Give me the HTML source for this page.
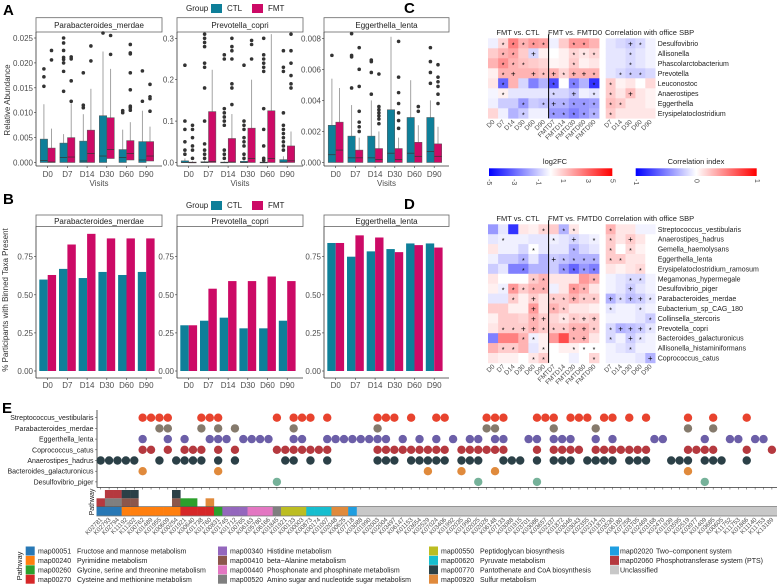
<!DOCTYPE html>
<html><head><meta charset="utf-8"><style>
body{margin:0;background:#fff}
svg{display:block;font-family:"Liberation Sans",Arial,sans-serif}
</style></head><body>
<svg id="fig" width="778" height="586" viewBox="0 0 778 586" xmlns="http://www.w3.org/2000/svg"></svg>
<script>
// ===== Panel A data =====
const visits = ["D0","D7","D14","D30","D60","D90"];
const taxaAB = ["Parabacteroides_merdae","Prevotella_copri","Eggerthella_lenta"];
const aMax = [0.025,0.3,0.008];
const aTicks = [["0.000","0.005","0.010","0.015","0.020","0.025"],["0.0","0.1","0.2","0.3"],["0.000","0.002","0.004","0.006","0.008"]];
const aTickVals = [[0,0.005,0.01,0.015,0.02,0.025],[0,0.1,0.2,0.3],[0,0.002,0.004,0.006,0.008]];
// [q1, median, q3, whiskerHigh]
const boxCTL = [
 [[0,.0004,.0047,.0117],[0,.001,.0039,.0057],[0,.0003,.0043,.0097],[0,.0013,.0094,.0223],[0,.001,.0026,.0066],[0,.0005,.0042,.0104]],
 [[0,0,.004,.01],[0,0,.002,.005],[0,0,.001,.003],[0,0,.003,.006],[0,0,.001,.003],[0,.001,.007,.015]],
 [[0,.0005,.0024,.0054],[0,.0003,.0017,.0037],[0,.0003,.0017,.004],[0,.0006,.0034,.0081],[0,.0006,.0029,.0053],[0,.0007,.0029,.004]]];
const boxFMT = [
 [[0,.0001,.0029,.0068],[0,.0011,.005,.0119],[0,.0018,.0065,.0148],[.0008,.0026,.009,.0188],[.0005,.0018,.0044,.0081],[.0003,.0013,.0042,.0072]],
 [[0,0,.001,.003],[0,.002,.123,.224],[0,.001,.058,.117],[0,.01,.083,.2],[0,.01,.125,.31],[0,.004,.04,.075]],
 [[0,.0008,.0026,.0048],[0,.0003,.0008,.0016],[0,.0002,.0009,.002],[0,.0002,.0009,.0016],[0,.0004,.0013,.0024],[0,.0004,.0012,.0023]]];
const outCTL = [
 [[.0153,.0172,.0188],[.0143,.0183,.02,.0207,.0211,.0225,.024,.025],[.011,.0115,.018],[.026],[.01,.0104],[.0123,.0184]],
 [[.02,.03,.05,.08,.1,.235],[.01,.02,.03,.045,.1,.18,.23,.24,.28,.29,.3,.31],[.01,.02,.03,.09,.1,.11,.12,.13,.25,.26],[.01,.02,.04,.05,.06,.08,.09,.1,.235],[.005,.01,.04,.08,.13,.22,.23,.24,.25,.26,.3],[.03,.04,.05,.06,.07,.08,.09,.12,.22,.23,.27]],
 [[.0069],[.0048,.0068,.0069,.0083],[.0044,.0058,.0065,.0066],[],[],[.0074,.0065,.0058,.0051]]];
const outFMT = [
 [[.0206,.0225],[.0123,.0164,.0208,.0212],[.0204,.0234],[.0217,.0255],[.0105,.011,.0113,.0146,.018,.0218,.022,.0237],[.0103,.0128,.0132,.0157]],
 [[.01,.03,.04,.06,.08,.09],[],[.14,.18,.19,.25,.27,.28,.3],[.25,.285,.295],[],[.18,.19,.21,.24,.27,.31]],
 [[],[.002,.0023,.0026,.0033,.0049,.006,.0074],[.0025,.0028,.003,.0032,.0034,.0036,.0057],[.0022,.0027,.0032,.0038,.0045,.0055,.0078],[.0033,.0036],[.0063,.0055,.0052,.0049,.0044,.0038]]];
// ===== Panel B data =====
const bTicks = ["0.00","0.25","0.50","0.75"];
const bTickVals = [0,0.25,0.5,0.75];
const presCTL = [[.60,.67,.61,.65,.63,.65],[.30,.33,.35,.28,.28,.33],[.84,.75,.785,.80,.837,.837]];
const presFMT = [[.63,.83,.90,.87,.87,.87],[.30,.54,.59,.59,.62,.59],[.84,.89,.876,.78,.826,.81]];
// ===== Panel C data =====
const hmCols = ["D0","D7","D14","D30","D60","D90","FMTD7","FMTD14","FMTD30","FMTD60","FMTD90"];
const corCols = ["D7","D14","D30","D60","D90"];
const cRows = ["Desulfovibrio","Allisonella","Phascolarctobacterium","Prevotella","Leuconostoc","Anaerostipes","Eggerthella","Erysipelatoclostridium"];
const cFC = [
 [-0.3,0.8,2.5,1.5,2,1.8,-0.3,1,2,2,1.5],
 [1,1.5,1.8,1,-0.8,0.3,0,0.3,0.8,0.5,0.8],
 [1.5,2.2,1.5,1.2,1,0.8,0.2,0.3,1,0.3,0.5],
 [0.3,1.5,1.5,1.5,1.5,1.2,1.5,0.8,1.5,1.5,1.5],
 [0.5,-3,1.5,-0.8,-2.5,-1.5,-3.5,0,-2.5,-1.5,-4],
 [-0.2,0.3,-0.5,-0.5,-0.5,-0.5,-0.8,-0.8,-1.2,-0.3,-0.5],
 [-0.3,-1,-1,-2,-1,-1.2,-1.5,-1.5,-2,-2,-1.8],
 [0.8,-0.3,-1.5,-1,-0.3,-0.3,-2,-2,-2.5,-2,-1.5]];
const cSym = [" *****  ** "," ** +   ***"," ***    *  "," *+ +*+*++*"," *    * * *"," *    * + *","   * *+****","   *  *****"];
const cCor = [[-.1,-.15,-.2,-.15,-.05],[-.1,-.1,-.15,-.1,-.05],[-.1,-.1,-.15,-.1,-.05],[-.1,-.15,-.2,-.2,-.15],[.2,.05,.1,0,.15],[.2,.1,.25,.1,.05],[.25,.2,.1,.1,.05],[.2,.1,.1,.1,.1]];
const cCorSym = ["  +* ","  *  ","  *  "," *** ","*    ","* +  ","**   ","*    "];
// ===== Panel D data =====
const dRows = ["Streptococcus_vestibularis","Anaerostipes_hadrus","Gemella_haemolysans","Eggerthella_lenta","Erysipelatoclostridium_ramosum","Megamonas_hypermegale","Desulfovibrio_piger","Parabacteroides_merdae","Eubacterium_sp_CAG_180","Collinsella_stercoris","Prevotella_copri","Bacteroides_galacturonicus","Allisonella_histaminiformans","Coprococcus_catus"];
const dFC = [
 [-2,-0.5,-4,0.5,0.3,0.8,1,-1.5,0.5,0,0],
 [-0.5,-0.3,-0.3,-0.3,-0.5,-0.5,-0.3,-0.5,-0.8,-0.5,-0.3],
 [0.5,-0.3,-0.3,-0.8,0,-0.5,-0.5,-0.5,-1.5,-0.8,-0.5],
 [-0.3,-1,-1,-1.5,-0.5,-1.5,-1,-1.2,-1.5,-1.5,-1.5],
 [-1,-0.5,-2.5,-2.5,-1.5,-1.5,-1,-2,-3,-2,-2.5],
 [0.5,0,0,0,1,1.5,0.5,0.5,0.5,2,1.5],
 [0.3,-0.3,2,1,1.5,1.5,-0.3,0.5,2,1.5,0.5],
 [-0.5,-0.5,1,0.3,1,0.5,1,1,1.5,1,1],
 [1,1,0.3,0.3,2,0.5,1.5,1,0.5,0.5,0.3],
 [0.3,1,1,0.8,1.5,1,0.8,0.5,1,0.8,1],
 [0.5,1,1,1,1.5,1,1,1,1.5,1.5,1],
 [-2.5,2.5,2.5,1.5,-0.3,0.3,2,3.5,1.5,1.5,0.5],
 [1.5,1,1,1.5,-0.5,0.3,0,0.3,0.3,0,0],
 [0.5,0.3,0.3,0,0.5,1,0,0,-0.3,0,0.8]];
const dSym = ["     * **  "," *    * + *","    *   *  ","   *  +****","   *   ****","    **    *"," *****  ** ","  * + **+**","    + **   ","    ++ **++"," **++***++*","   **   *+ "," **  *  ***","    **    *"];
const dCor = [[.3,.1,.1,-.05,-.05],[.2,.1,.2,.1,0],[.2,0,.15,.05,0],[.2,.2,.1,.1,0],[.1,.05,.1,.15,0],[-.05,-.1,-.15,-.15,-.05],[-.05,-.1,-.2,-.1,-.05],[-.3,-.15,-.25,-.2,-.1],[-.1,-.05,-.05,-.1,-.05],[-.05,-.05,-.05,-.1,-.2],[-.15,-.3,-.25,-.2,-.1],[-.15,-.05,-.2,-.1,-.05],[-.05,-.1,-.15,-.05,-.05],[-.05,-.05,-.05,-.1,-.3]];
const dCorSym = ["*    ","* +  ","* *  ","**   ","   * ","  ** ","  +  ","+*++*","*  * ","    *","*+++*","* +* ","  *  ","    +"];
// ===== Panel E data =====
const eRows = ["Streptococcus_vestibularis","Parabacteroides_merdae","Eggerthella_lenta","Coprococcus_catus","Anaerostipes_hadrus","Bacteroides_galacturonicus","Desulfovibrio_piger"];
const eColors = ["#e8432e","#857a6c","#6c5fa8","#b5393f","#2b4047","#e08a3c","#76b29a"];
const eCols = [
 [5,6,7,8,12,13,14,21,23,24,25,27,33,34,35,37,40,41,46,47,48,52,53,54,56,57,58,60,61,63,65,70,73,77],
 [7,8,12,14,16,23,33,46,47,54,59,70,73],
 [5,8,10,13,14,15,17,18,19,20,23,24,27,28,29,30,31,32,33,34,36,38,40,42,44,45,47,48,51,52,54,55,56,59,61,66,67,72,75,76,78,79],
 [5,6,8,10,11,12,14,16,21,22,23,24,25,26,27,33,34,35,36,37,38,39,40,41,43,44,45,46,47,48,52,54,55,56,57,59,60,61,62,63,64,65,70,71,72,73,77,80],
 [0,1,2,3,4,7,9,10,11,12,14,16,22,23,25,27,33,34,35,37,38,39,40,41,43,44,45,48,49,50,52,54,55,56,58,59,60,61,63,64,65,68,69,70,72,73,74,77],
 [5,14,39,43,47,70],
 [21,45,52,72]];
const kos = ["K02781","K02793","K02794","K11192","K11202","K00762","K01489","K01955","K00609","K00254","K01921","K00640","K01738","K01760","K00831","K01745","K01712","K00765","K06163","K05780","K06166","K01845","K01921","K00133","K00003","K00873","K00174","K01007","K02048","K00625","K07718","K03088","K01990","K02003","K02004","K03497","K06147","K01153","K03654","K02529","K07024","K03406","K01992","K02035","K01990","K02025","K02026","K06148","K07133","K03088","K01915","K03701","K03086","K03657","K02337","K01872","K03046","K03043","K02355","K02314","K01870","K03530","K06180","K07258","K03705","K02469","K03168","K02470","K01939","K03595","K02519","K03977","K01409","K03685","K00605","K11752","K11753","K01866","K11140","K11753","K13189"];
const pwNames = ["map00051","map00240","map00260","map00270","map00340","map00410","map00440","map00520","map00550","map00620","map00770","map00920","map02020","map02060","Unclassified"];
const pwDesc = ["Fructose and mannose metabolism","Pyrimidine metabolism","Glycine, serine and threonine metabolism","Cysteine and methionine metabolism","Histidine metabolism","beta\u2212Alanine metabolism","Phosphonate and phosphinate metabolism","Amino sugar and nucleotide sugar metabolism","Peptidoglycan biosynthesis","Pyruvate metabolism","Pantothenate and CoA biosynthesis","Sulfur metabolism","Two\u2212component system","Phosphotransferase system (PTS)",""];
const pwColors = ["#2878b5","#ff7f0e","#2ca02c","#d62728","#9467bd","#8c564b","#e377c2","#7f7f7f","#bcbd22","#17becf","#2b4047","#e08a3c","#1f9ee0","#b5393f","#c8c8c8"];
const pwBottom = [0,0,0,1,1,1,1,1,1,1,3,3,3,3,2,4,4,4,6,6,6,7,8,8,8,9,9,9,11,11,12];
const pwMiddle = {0:13,1:7,2:7,3:5,4:5,9:5,10:2,11:2,13:11};
const pwTop = {1:13,2:13,3:10,4:10,9:10};

const NS="http://www.w3.org/2000/svg";
const svg=document.getElementById('fig');
function mk(tag,at,parent){const e=document.createElementNS(NS,tag);for(const k in at)e.setAttribute(k,at[k]);(parent||svg).appendChild(e);return e;}
function txt(s,x,y,at,parent){const e=mk('text',Object.assign({x:x,y:y,'font-size':8,fill:'#4d4d4d'},at||{}),parent);e.textContent=s;return e;}
const CTL="#0e7f99", FMT="#cc0a66";

[["A",3,15],["B",3,204],["C",404,13],["D",404,209],["E",2,413]].forEach(p=>{
 const t=txt(p[0],p[1],p[2],{'font-size':15,'font-weight':'bold',fill:'#000'});
 
 
});

function groupLegend(y,name){
 const g=mk('g',{});
 
 
 txt("Group",186,y+3,{'font-size':8,fill:'#222'},g);
 mk('rect',{x:211,y:y-4,width:11,height:9,fill:CTL},g);
 txt("CTL",227,y+3,{'font-size':8,fill:'#222'},g);
 mk('rect',{x:252,y:y-4,width:11,height:9,fill:FMT},g);
 txt("FMT",268,y+3,{'font-size':8,fill:'#222'},g);
}
groupLegend(8,'legend-a');
groupLegend(205,'legend-b');

const panX=[[36,162],[177,303],[324,449]];
function cx(p,i){return panX[p][0]+11.7+i*19.7;}

// ===== Panel A =====
const ayT=[38,38.3,38.3], ay0=162.5;
function ya(p,v){return ay0 - v/aMax[p]*(ay0-ayT[p]);}
for(let p=0;p<3;p++){
 const g=mk('g',{});
 
 
 const [x0,x1]=panX[p];
 mk('rect',{x:x0,y:17.7,width:x1-x0,height:14.3,fill:'#fff',stroke:'#666','stroke-width':0.8},g);
 txt(taxaAB[p],(x0+x1)/2,28,{'text-anchor':'middle','font-size':8,fill:'#222'},g);
 mk('line',{x1:x0,y1:32,x2:x0,y2:166,stroke:'#333','stroke-width':0.8},g);
 mk('line',{x1:x0,y1:166,x2:x1,y2:166,stroke:'#333','stroke-width':0.8},g);
 aTickVals[p].forEach((v,i)=>{const y=ya(p,v);mk('line',{x1:x0-2,y1:y,x2:x0,y2:y,stroke:'#333','stroke-width':0.6},g);txt(aTicks[p][i],x0-3,y+3,{'text-anchor':'end'},g);});
 visits.forEach((d,i)=>{
  const c=cx(p,i);
  mk('line',{x1:c,y1:166,x2:c,y2:168,stroke:'#333','stroke-width':0.6},g);
  txt(d,c,177,{'text-anchor':'middle'},g);
  [[boxCTL,outCTL,CTL,-3.8],[boxFMT,outFMT,FMT,3.8]].forEach(([B,O,col,off])=>{
   const b=B[p][i], bx=c+off;
   mk('line',{x1:bx,y1:ya(p,b[0]),x2:bx,y2:ya(p,b[3]),stroke:'#999','stroke-width':0.9},g);
   mk('rect',{x:bx-3.7,y:ya(p,b[2]),width:7.4,height:Math.max(0.8,ya(p,b[0])-ya(p,b[2])),fill:col,stroke:'#555','stroke-width':0.5},g);
   mk('line',{x1:bx-3.7,y1:ya(p,b[1]),x2:bx+3.7,y2:ya(p,b[1]),stroke:'#333','stroke-width':0.7},g);
   O[p][i].forEach(v=>{const yy=Math.max(33,ya(p,v));mk('circle',{cx:bx,cy:yy,r:1.8,fill:'#333'},g);});
  });
 });
 txt("Visits",(x0+x1)/2,186,{'text-anchor':'middle','font-size':8},g);
}
const yta=txt("Relative Abundance",0,0,{'text-anchor':'middle','font-size':8,fill:'#333',transform:'translate(10,100) rotate(-90)'});



// ===== Panel B =====
const by0=371, bPer=152.4;
function yb(v){return by0 - v*bPer;}
for(let p=0;p<3;p++){
 const g=mk('g',{});
 
 
 const [x0,x1]=panX[p];
 mk('rect',{x:x0,y:215,width:x1-x0,height:11.5,fill:'#fff',stroke:'#666','stroke-width':0.8},g);
 txt(taxaAB[p],(x0+x1)/2,224,{'text-anchor':'middle','font-size':8,fill:'#222'},g);
 mk('line',{x1:x0,y1:226.5,x2:x0,y2:378,stroke:'#333','stroke-width':0.8},g);
 mk('line',{x1:x0,y1:378,x2:x1,y2:378,stroke:'#333','stroke-width':0.8},g);
 bTickVals.forEach((v,i)=>{const y=yb(v);mk('line',{x1:x0-2,y1:y,x2:x0,y2:y,stroke:'#333','stroke-width':0.6},g);txt(bTicks[i],x0-3,y+3,{'text-anchor':'end'},g);});
 visits.forEach((d,i)=>{
  const c=cx(p,i);
  mk('line',{x1:c,y1:378,x2:c,y2:380,stroke:'#333','stroke-width':0.6},g);
  txt(d,c,388,{'text-anchor':'middle'},g);
  const r1=mk('rect',{x:c-8.4,y:yb(presCTL[p][i]),width:8.4,height:presCTL[p][i]*bPer,fill:CTL},g);
  
  
  const r2=mk('rect',{x:c,y:yb(presFMT[p][i]),width:8.4,height:presFMT[p][i]*bPer,fill:FMT},g);
  
  
 });
}
const ytb=txt("% Participants with Binned Taxa Present",0,0,{'text-anchor':'middle','font-size':8,fill:'#333',transform:'translate(8,300) rotate(-90)'});



// ===== Heatmaps =====
function mix(a,b,t){return Math.round(a+(b-a)*t);}
function colFC(v,m){let t=Math.max(-1,Math.min(1,v/m));
 if(t>=0) return `rgb(255,${mix(255,0,t)},${mix(255,0,t)})`;
 t=-t; return `rgb(${mix(255,0,t)},${mix(255,0,t)},255)`;}
function heat(name,rows,fc,sym,cor,corSym,top,h,hdrY){
 const g=mk('g',{});
 
 
 const hx0=488, cw=10.1, kx0=605.7, kw=9.9;
 txt("FMT vs. CTL",518,hdrY,{'text-anchor':'middle','font-size':7.5,fill:'#222'},g);
 txt("FMT vs. FMTD0",575,hdrY,{'text-anchor':'middle','font-size':7.5,fill:'#222'},g);
 txt("Correlation with office SBP",605,hdrY,{'font-size':7.5,fill:'#222'},g);
 rows.forEach((r,i)=>{
  const y=top+i*h;
  fc[i].forEach((v,j)=>{
   const x=hx0+j*cw;
   mk('rect',{x:x,y:y,width:cw+0.3,height:h+0.3,fill:colFC(v,5)},g);
   const s=sym[i][j]; if(s&&s!==' ') txt(s,x+cw/2,y+h/2+(s==='*'?4:3),{'text-anchor':'middle','font-size':s==='*'?7:8,fill:'#000'},g);
  });
  cor[i].forEach((v,j)=>{
   const x=kx0+j*kw;
   mk('rect',{x:x,y:y,width:kw+0.3,height:h+0.3,fill:colFC(v,1)},g);
   const s=corSym[i][j]; if(s&&s!==' ') txt(s,x+kw/2,y+h/2+(s==='*'?4:3),{'text-anchor':'middle','font-size':s==='*'?7:8,fill:'#000'},g);
  });
  txt(r,657.7,y+h/2+2.5,{'font-size':7,fill:'#222'},g);
 });
 const bot=top+rows.length*h;
 mk('line',{x1:hx0+6*cw,y1:top-4,x2:hx0+6*cw,y2:bot,stroke:'#000','stroke-width':1},g);
 hmCols.forEach((c,j)=>{const x=hx0+j*cw+cw/2+2;txt(c,x,bot+4,{'text-anchor':'end','font-size':6.5,transform:`rotate(-45 ${x} ${bot+4})`},g);});
 corCols.forEach((c,j)=>{const x=kx0+j*kw+kw/2+2;txt(c,x,bot+4,{'text-anchor':'end','font-size':6.5,transform:`rotate(-45 ${x} ${bot+4})`},g);});
}
heat('heatmap-c',cRows,cFC,cSym,cCor,cCorSym,38.3,10,35);
heat('heatmap-d',dRows,dFC,dSym,dCor,dCorSym,224.3,9.9,221);

const defs=mk('defs',{});
const lg=mk('linearGradient',{id:'gbr',x1:0,x2:1,y1:0,y2:0},defs);
[["0%","#0000ff"],["50%","#ffffff"],["100%","#ff0000"]].forEach(s=>mk('stop',{offset:s[0],'stop-color':s[1]},lg));
const cb1=mk('g',{});


txt("log2FC",555,164,{'text-anchor':'middle','font-size':7.5,fill:'#222'},cb1);
mk('rect',{x:489,y:168.3,width:123.3,height:7.7,fill:'url(#gbr)'},cb1);
["-5","-3","-1","1","3","5"].forEach((s,i)=>{const x=489+123.3*(i*2)/10;txt(s,x,179,{'font-size':7,transform:`rotate(90 ${x} 179)`,'dominant-baseline':'middle'},cb1);});
const cb2=mk('g',{});


txt("Correlation index",696,164,{'text-anchor':'middle','font-size':7.5,fill:'#222'},cb2);
mk('rect',{x:635.7,y:168.3,width:121,height:7.7,fill:'url(#gbr)'},cb2);
["-1","0","1"].forEach((s,i)=>{const x=635.7+60.5*i;txt(s,x,179,{'font-size':7,transform:`rotate(90 ${x} 179)`,'dominant-baseline':'middle'},cb2);});

// ===== Panel E =====
const ex0=100.7, ecw=8.39, ey0=417.7, erh=10.7;
const eg=mk('g',{});


mk('line',{x1:97,y1:410,x2:97,y2:487.5,stroke:'#333','stroke-width':0.8},eg);
mk('line',{x1:97,y1:487.5,x2:777,y2:487.5,stroke:'#333','stroke-width':0.8},eg);
for(let j=0;j<81;j++){const x=ex0+j*ecw;mk('line',{x1:x,y1:487.5,x2:x,y2:489.5,stroke:'#333','stroke-width':0.5},eg);}
eRows.forEach((r,i)=>{
 const y=ey0+i*erh;
 txt(r,93.5,y+2.5,{'text-anchor':'end','font-size':7,fill:'#222'},eg);
 mk('line',{x1:95,y1:y,x2:97,y2:y,stroke:'#333','stroke-width':0.5},eg);
 eCols[i].forEach(j=>mk('circle',{cx:ex0+j*ecw,cy:y,r:4.2,fill:eColors[i]},eg));
});
const pg=mk('g',{});


mk('rect',{x:96.5,y:507,width:680.5,height:8.7,fill:pwColors[14]},pg);
pwBottom.forEach((k,j)=>mk('rect',{x:ex0+(j-0.5)*ecw,y:507,width:ecw+0.2,height:8.7,fill:pwColors[k]},pg));
for(const j in pwMiddle) mk('rect',{x:ex0+(j-0.5)*ecw,y:498.3,width:ecw+0.2,height:8.7,fill:pwColors[pwMiddle[j]]},pg);
for(const j in pwTop) mk('rect',{x:ex0+(j-0.5)*ecw,y:490,width:ecw+0.2,height:8.3,fill:pwColors[pwTop[j]]},pg);
mk('line',{x1:96.5,y1:506.7,x2:777,y2:506.7,stroke:'#555','stroke-width':0.6},pg);
mk('line',{x1:96.5,y1:516,x2:777,y2:516,stroke:'#333','stroke-width':0.6},pg);
txt("Pathway",0,0,{'text-anchor':'middle','font-size':7,fill:'#222',transform:'translate(94,502) rotate(-90)'},pg);
for(let j=0;j<81;j++){const x=ex0+j*ecw+2;txt(kos[j],x,520,{'text-anchor':'end','font-size':6.2,transform:`rotate(-45 ${x} 520)`},pg);}
const lgE=mk('g',{});


txt("Pathway",0,0,{'text-anchor':'middle','font-size':7.5,fill:'#222',transform:'translate(22,566) rotate(-90)'},lgE);
const lcx=[[25.7,38,77],[218,230,267],[429,441,480],[610,620,656]];
pwNames.forEach((n,k)=>{
 const c=Math.floor(k/4), r=k%4, L=lcx[c], y=551+r*9.4;
 mk('rect',{x:L[0],y:y-4.5,width:9,height:9,fill:pwColors[k]},lgE);
 txt(n,L[1],y+2.6,{'font-size':7,fill:'#222'},lgE);
 if(pwDesc[k]) txt(pwDesc[k],L[2],y+2.6,{'font-size':7,fill:'#222'},lgE);
});
</script>
</body></html>
